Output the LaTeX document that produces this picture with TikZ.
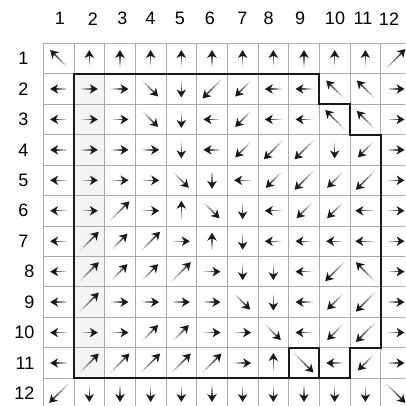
\documentclass[tikz,border=0pt]{standalone}
\usepackage{fontspec}
\setmainfont{Liberation Sans}
\definecolor{gridgray}{RGB}{170,170,170}
\definecolor{tint}{RGB}{246,243,247}
% direction definitions: unit vector and half length
\def\dirN{\def\vx{0}\def\vy{1}\def\hl{8.5}}
\def\dirS{\def\vx{0}\def\vy{-1}\def\hl{8.5}}
\def\dirE{\def\vx{1}\def\vy{0}\def\hl{8.5}}
\def\dirW{\def\vx{-1}\def\vy{0}\def\hl{8.5}}
\def\dirNL{\def\vx{0}\def\vy{1}\def\hl{10}}
\def\dirWL{\def\vx{-1}\def\vy{0}\def\hl{10}}
\def\dirNE{\def\vx{1}\def\vy{1}\def\hl{10.6}}
\def\dirNW{\def\vx{-1}\def\vy{1}\def\hl{10.6}}
\def\dirSE{\def\vx{1}\def\vy{-1}\def\hl{10.6}}
\def\dirSW{\def\vx{-1}\def\vy{-1}\def\hl{10.6}}
\def\dirNWM{\def\vx{-1}\def\vy{1}\def\hl{12}}
\def\dirNEL{\def\vx{1}\def\vy{1}\def\hl{13.4}}
\def\dirNWL{\def\vx{-1}\def\vy{1}\def\hl{13.4}}
\def\dirSEL{\def\vx{1}\def\vy{-1}\def\hl{13.4}}
\def\dirSWL{\def\vx{-1}\def\vy{-1}\def\hl{13.4}}
\newcommand\gridarrow[3]{% col, row, dir
  \csname dir#3\endcsname
  \pgfmathsetmacro\cx{43.3+30.67*(#1-0.5)}%
  \pgfmathsetmacro\cy{406-43.3-30.45*(#2-0.5)}%
  \pgfmathsetmacro\ang{atan2(\vy,\vx)}%
  \pgfmathsetmacro\seg{(2*\hl-4)/5}%
  \begin{scope}[shift={(\cx,\cy)},rotate=\ang]
    \foreach \k [evaluate=\k as \cc using int(12+18*\k)] in {0,...,4} {
      \draw[shaft, black!\cc] ({-\hl+\seg*\k},0) -- ({-\hl+\seg*(\k+1)},0);
    }
    \fill[black!90] (\hl,0) -- ({\hl-8},4.8) -- ({\hl-5.6},0) -- ({\hl-8},-4.8) -- cycle;
  \end{scope}
}
\tikzset{
  shaft/.style={line width=1.4pt},
  thin grid/.style={draw=gridgray, line width=0.8pt},
  region/.style={draw=black!90, line width=1.8pt, line join=miter},
  num/.style={font=\fontsize{18}{20}\selectfont, inner sep=0pt}
}
\begin{document}
\begin{tikzpicture}[x=1pt,y=1pt]
\useasboundingbox (0,0) rectangle (405,406);
\fill[white] (0,0) rectangle (405,406);
\clip (0,0) rectangle (405,406);
% tinted cells
\fill[tint] (43.3+30.67,406-43.3-30.45) rectangle (43.3+2*30.67,406-43.3-11*30.45);
% thin grid
\foreach \i in {0,...,12} {
  \draw[thin grid] (43.3+30.67*\i,406-43.3) -- (43.3+30.67*\i,-5);
  \draw[thin grid] (43.3,406-43.3-30.45*\i) -- (420,406-43.3-30.45*\i);
}
% arrows
\foreach \r/\lst in {
  1/{NWM,N,N,N,N,N,N,N,N,N,N,NEL},
  2/{W,E,E,SE,S,SWL,SW,W,W,NWM,NWM,E},
  3/{W,E,E,SE,S,W,SW,W,W,NWL,NWM,E},
  4/{W,E,E,E,S,W,SW,SWL,SWL,S,SW,E},
  5/{W,E,E,E,SE,S,W,SW,SWL,SW,SWL,E},
  6/{W,E,NEL,E,NL,SE,S,W,SW,SW,WL,E},
  7/{W,NEL,NE,NEL,E,N,S,W,W,W,WL,E},
  8/{W,NEL,NE,NE,NEL,E,S,S,W,SWL,NWL,E},
  9/{W,NEL,E,E,E,E,SE,S,W,SW,SWL,E},
  10/{W,E,E,NE,NE,E,E,SE,W,SW,SWL,E},
  11/{W,NEL,NEL,NEL,NEL,NEL,E,NL,SEL,W,SW,E},
  12/{SWL,S,S,S,S,S,S,S,S,S,S,SEL}} {
  \foreach \d [count=\c] in \lst {
    \gridarrow{\c}{\r}{\d}
  }
}
% thick region border
\draw[region] (43.3+30.67*1,406-43.3-30.45*1) -- (43.3+30.67*9,406-43.3-30.45*1)
  -- (43.3+30.67*9,406-43.3-30.45*2) -- (43.3+30.67*10,406-43.3-30.45*2)
  -- (43.3+30.67*10,406-43.3-30.45*3) -- (43.3+30.67*11,406-43.3-30.45*3)
  -- (43.3+30.67*11,406-43.3-30.45*10) -- (43.3+30.67*10,406-43.3-30.45*10)
  -- (43.3+30.67*10,406-43.3-30.45*11) -- (43.3+30.67*1,406-43.3-30.45*11) -- cycle;
% bold box
\draw[region] (43.3+30.67*8,406-43.3-30.45*10) rectangle (43.3+30.67*9,406-43.3-30.45*11);
% column numbers
\foreach \n/\x in {1/60,2/93,3/122.5,4/150.5,5/180,6/210,7/242.5,8/268.5,9/300,10/335,11/363,12/389} {
  \node[num] (c\n) at (\x,406-18.8) {\n};
}
% row numbers
\foreach \n in {1,...,7} {
  \node[num, anchor=east] (r\n) at (28.5,406-43.3-30.45*\n+15.2) {\n};
}
\foreach \n in {8,...,12} {
  \node[num, anchor=east] (r\n) at (34.5,406-43.3-30.45*\n+15.2) {\n};
}
\end{tikzpicture}
\end{document}
